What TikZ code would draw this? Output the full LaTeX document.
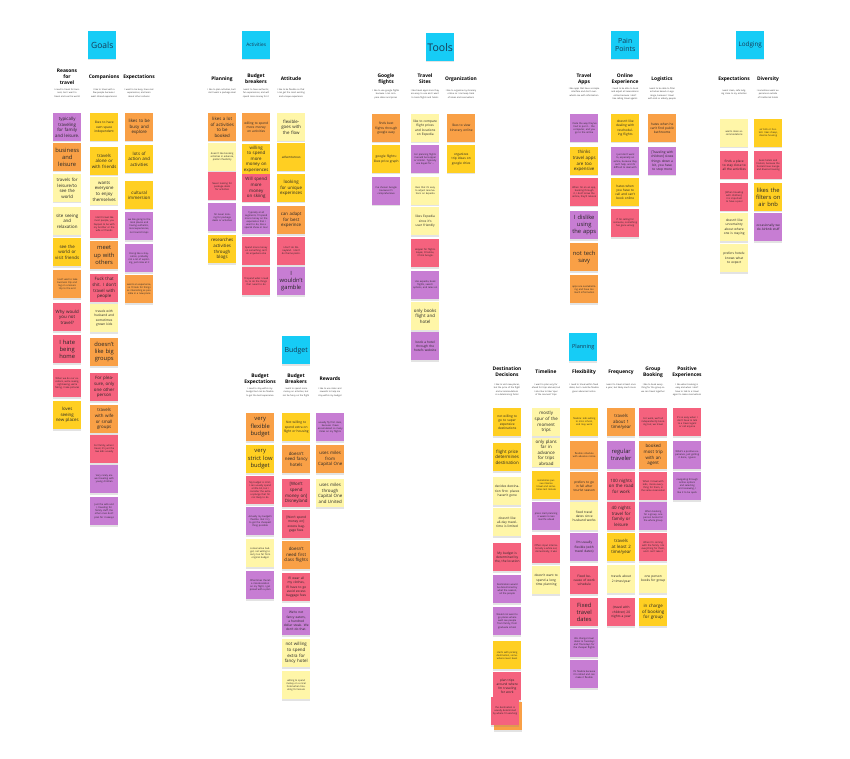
\documentclass[tikz,border=0pt]{standalone}
\usepackage{fontspec}
\setmainfont{Open Sans}
\usetikzlibrary{shadows}
\definecolor{cPur}{RGB}{199,125,211}
\definecolor{cOra}{RGB}{249,160,70}
\definecolor{cYel}{RGB}{255,207,34}
\definecolor{cLye}{RGB}{255,246,168}
\definecolor{cPin}{RGB}{245,98,126}
\definecolor{cCya}{RGB}{22,204,246}
\definecolor{cTit}{RGB}{22,58,85}
\newcommand{\fL}{\fontsize{5.8}{7.2}\selectfont}
\newcommand{\fM}{\fontsize{4.4}{5.6}\selectfont}
\newcommand{\fT}{\fontsize{3.2}{4.2}\selectfont}
\newcommand{\fS}{\fontsize{2.4}{3.1}\selectfont}
\newcommand{\sk}[6]{\node[sticky,fill=#4,font=#5] (#1) at (#2,#3) {#6};}
\newcommand{\hd}[4]{\node[heading] (#1) at (#2,#3) {#4};}
\newcommand{\ds}[4]{\node[descr] (#1) at (#2,#3) {#4};}
\newcommand{\tc}[5]{\node[titlecard,font=#4] (#1) at (#2,#3) {#5};}
\tikzset{
  sticky/.style={anchor=north west, minimum width=28pt, minimum height=28pt, text width=25pt, inner sep=1.5pt, align=center, text=black!85, drop shadow={shadow xshift=0pt, shadow yshift=-1.3pt, opacity=0.22}},
  titlecard/.style={anchor=north west, fill=cCya, minimum width=28pt, minimum height=28pt, text width=27pt, inner sep=0.5pt, align=center, text=cTit, drop shadow={shadow xshift=0pt, shadow yshift=-1.3pt, opacity=0.22}},
  heading/.style={anchor=center, font=\bfseries\fontsize{4.9}{6.1}\selectfont, align=center, text width=36pt, inner sep=0pt},
  descr/.style={anchor=north, font=\fontsize{2.2}{3.1}\selectfont, align=center, text width=31pt, inner sep=0pt, text=black!80}
}
\begin{document}
\begin{tikzpicture}[x=1pt,y=-1pt]
\fill[white] (0,0) rectangle (850,759);
\useasboundingbox (0,0) rectangle (850,759);
% ================= GOALS =================
\tc{tGoals}{88}{31}{\fontsize{8.5}{9}\selectfont}{Goals}
\hd{hReas}{67}{77}{Reasons\\for\\travel}
\hd{hComp}{104}{77}{Companions}
\hd{hExpG}{139}{77}{Expectations}
\ds{dReas}{67}{89}{I need to travel for business, but I want to travel and see the world}
\ds{dComp}{104}{89}{I like to travel with a few people because I want shared experiences}
\ds{dExpG}{139}{89}{I want to be busy, have real experiences, and learn about other cultures}
\sk{r1}{53}{113}{cPur}{\fM}{typically traveling for family and leisure.}
\sk{r2}{53}{143}{cOra}{\fL}{business and leisure}
\sk{r3}{53}{174}{cLye}{\fM}{travels for leisure/to see the world}
\sk{r4}{53}{207}{cLye}{\fM}{site seeing and relaxation}
\sk{r5}{53}{238}{cYel}{\fM}{see the world or visit friends}
\sk{r6}{53}{270}{cOra}{\fS}{I can't wait to take business trip and tag on a leisure trip to the end}
\sk{r7}{53}{303}{cPin}{\fM}{Why would you not travel?}
\sk{r8}{53}{335}{cPin}{\fL}{I hate being home}
\sk{r9}{53}{369}{cPin}{\fS}{When we do our vacations, we're seeing, sightseeing, we're hiking, I take pictures}
\sk{r10}{53}{401}{cYel}{\fM}{loves seeing new places}
\sk{c1}{90}{113}{cYel}{\fT}{likes to have own space independent}
\sk{c2}{90}{147}{cYel}{\fM}{travels alone or with friends}
\sk{c3}{90}{177}{cLye}{\fM}{wants everyone to enjoy themselves}
\sk{c4}{90}{210}{cPin}{\fS}{I don't travel like most people, you happen to be with my brother or the wife or friends}
\sk{c5}{90}{241}{cOra}{\fL}{meet up with others}
\sk{c6}{90}{274}{cPin}{\fM}{Fuck that shit. I don't travel with people}
\sk{c7}{90}{304}{cLye}{\fT}{travels with husband and sometimes grown kids}
\sk{c8}{90}{338}{cOra}{\fL}{doesn't like big groups}
\sk{c9}{90}{373}{cPin}{\fM}{For pleasure, only one other person}
\sk{c10}{90}{405}{cOra}{\fM}{travels with wife or small groups}
\sk{c11}{90}{435}{cPin}{\fS}{For family, when I travel, it's just the two kids usually}
\sk{c12}{90}{465}{cPur}{\fS}{Very rarely are we traveling with young children}
\sk{c13}{90}{497}{cPur}{\fS}{Just the wife and I, traveling for family stuff, the other ones don't plan for it always}
\sk{e1}{125}{113}{cOra}{\fM}{likes to be busy and explore}
\sk{e2}{125}{145}{cYel}{\fM}{lots of action and activities}
\sk{e3}{125}{181}{cYel}{\fM}{cultural immersion}
\sk{e4}{125}{212}{cPur}{\fS}{we like going to the local places and having authentic, local experiences, not tourist traps}
\sk{e5}{125}{244}{cPur}{\fS}{Doing like a staycation, probably not a lot of exploring, just relax at it}
\sk{e6}{125}{275}{cOra}{\fS}{wants an experience, so I'll look for things as interesting as possible in a new place}
% ================= ACTIVITIES =================
\tc{tAct}{242}{31}{\fontsize{4.8}{5}\selectfont}{Activities}
\hd{hPlan}{222}{79}{Planning}
\hd{hBbA}{256}{79}{Budget\\breakers}
\hd{hAtt}{291}{79}{Attitude}
\ds{dPlan}{222}{89}{I like to plan activities, but I don't want a package deal}
\ds{dBbA}{256}{89}{I want to have authentic, fun experiences, and will spend more money for it}
\ds{dAtt}{291}{89}{I like to be flexible so that I can get the most exciting and unique experience}
\sk{p1}{208}{113}{cOra}{\fM}{likes a lot of activities to be booked}
\sk{p2}{208}{143}{cLye}{\fS}{doesn't like booking activities in advance, prefers flexibility}
\sk{p3}{208}{172}{cPin}{\fS}{Never looking for package deals for activities}
\sk{p4}{208}{203}{cPur}{\fS}{I'm never looking for package deals or activities}
\sk{p5}{208}{235}{cYel}{\fM}{researches activities through blogs}
\sk{b1}{242}{113}{cOra}{\fT}{willing to spend more money on activities}
\sk{b2}{242}{144}{cYel}{\fM}{willing to spend more money on experiences}
\sk{b3}{242}{174}{cPin}{\fM}{Will spend more money on skiing}
\sk{b4}{242}{206}{cPur}{\fS}{Typically at all segments, I'll spend more money on the experience that I want to do, like a special show or tour}
\sk{b5}{242}{237}{cPin}{\fS}{Spend more money on something can't do anywhere else}
\sk{b6}{242}{267}{cPin}{\fS}{I'll spend what I need to, to do the things that I want to do}
\sk{a1}{277}{113}{cLye}{\fM}{flexible- goes with the flow}
\sk{a2}{277}{143}{cYel}{\fT}{adventurous}
\sk{a3}{277}{174}{cYel}{\fM}{looking for unique experinces}
\sk{a4}{277}{206}{cOra}{\fM}{can adapt for best experince}
\sk{a5}{277}{237}{cPin}{\fS}{I don't do Disneyland. I don't do theme parks.}
\sk{a6}{277}{267}{cPur}{\fL}{I wouldn't gamble}
% ================= BUDGET =================
\tc{tBud}{282}{336}{\fontsize{7}{7.5}\selectfont}{Budget}
\hd{hBE}{260}{379}{Budget\\Expectations}
\hd{hBB}{296}{379}{Budget\\Breakers}
\hd{hRew}{330}{379}{Rewards}
\ds{dBE}{260}{388}{I need to stay within my budget but can be flexible to get the best experience}
\ds{dBB}{296}{388}{I want to spend more money on activities, but not be fussy on the flight}
\ds{dRew}{330}{388}{I like to use miles and rewards to help me stay within my budget}
\sk{be1}{246}{413}{cOra}{\fL}{very flexible budget}
\sk{be2}{246}{445}{cYel}{\fL}{very strict low budget}
\sk{be3}{246}{476}{cPin}{\fS}{My budget is strict, I can usually spend a little bit, but I consider the extra a splurge that I'm not likely to do}
\sk{be4}{246}{507}{cPur}{\fS}{Actually my budget's flexible. But I try to get the cheapest thing possible}
\sk{be5}{246}{539}{cLye}{\fS}{conservative budget, not willing to carry too far from original budget}
\sk{be6}{246}{571}{cPur}{\fS}{Oftentimes there's a miscalculation on my flight, I get pissed with a plan}
\sk{bb1}{282}{413}{cYel}{\fT}{Not willing to spend extra on flight or housing}
\sk{bb2}{282}{445}{cOra}{\fM}{doesn't need fancy hotels}
\sk{bb3}{282}{479}{cPin}{\fM}{[Won't spend money on] Disneyland}
\sk{bb4}{282}{510}{cPin}{\fT}{[Won't spend money on] excess baggage fees}
\sk{bb5}{282}{541}{cOra}{\fM}{doesn't need first class flights}
\sk{bb6}{282}{573}{cPin}{\fT}{I'll wear all my clothes, I'll have to go avoid excess baggage fees}
\sk{bb7}{282}{607}{cPur}{\fT}{We're not fancy eaters, a hundred dollar steak. We don't do that.}
\sk{bb8}{282}{639}{cLye}{\fM}{not willing to spend extra for fancy hotel}
\sk{bb9}{282}{671}{cLye}{\fS}{willing to spend money on a nicer hotel when traveling for leisure}
\sk{rw1}{316}{413}{cPur}{\fS}{usually fly first class, because I have accumulated so many miles on my flights}
\sk{rw2}{316}{445}{cOra}{\fM}{uses miles from Capital One}
\sk{rw3}{316}{479}{cLye}{\fM}{uses miles through Capital One and United}
% ================= TOOLS =================
\tc{tTools}{426}{33}{\fontsize{10.5}{11}\selectfont}{Tools}
\hd{hGoo}{386}{79}{Google\\flights}
\hd{hTS}{425}{79}{Travel\\Sites}
\hd{hOrg}{461}{79}{Organization}
\ds{dGoo}{386}{90}{I like to use google flights because I can compare dates and prices}
\ds{dTS}{425}{90}{I like travel apps since they are easy to use and I want to book flights and hotels}
\ds{dOrg}{461}{90}{I like to organize my itinerary online so I can keep track of ideas and reservations}
\sk{go1}{372}{114}{cOra}{\fT}{finds best flights through google easy}
\sk{go2}{372}{145}{cYel}{\fT}{google flights: likes price graph}
\sk{go3}{372}{177}{cPur}{\fS}{I've chosen Google because it's comprehensive}
\sk{ts1}{411}{114}{cLye}{\fT}{like to compare flight prices and locations on Expedia}
\sk{ts2}{411}{145}{cPur}{\fS}{For planning flights it would be Hopper or similar. Typically use Kayak for ...}
\sk{ts3}{411}{177}{cLye}{\fS}{likes that it's easy to adjust reservations on Expedia}
\sk{ts4}{411}{207}{cLye}{\fT}{likes Expedia since it's user friendly}
\sk{ts5}{411}{239}{cPin}{\fS}{Hopper for flights. Kayak, Priceline, I think Google.}
\sk{ts6}{411}{271}{cPur}{\fS}{Use expedia, book flights, search options, and relax on}
\sk{ts7}{411}{302}{cLye}{\fM}{only books flight and hotel}
\sk{ts8}{411}{332}{cPur}{\fT}{book a hotel through the hotel's website}
\sk{or1}{447}{114}{cOra}{\fT}{likes to view itinerary online}
\sk{or2}{447}{145}{cYel}{\fT}{organizes trip ideas on google drive}
% ================= PAIN POINTS =================
\tc{tPain}{611}{31}{\fontsize{7}{8}\selectfont}{Pain\\Points}
\hd{hTA}{584}{79}{Travel\\Apps}
\hd{hOE}{625}{79}{Online\\Experience}
\hd{hLog}{662}{79}{Logistics}
\ds{dTA}{584}{88}{I like apps that have a simple interface and don't overwhelm me with information}
\ds{dOE}{625}{88}{I need to be able to book and adjust all reservations online because I don't like calling travel agents}
\ds{dLog}{662}{88}{I want to be able to filter activities based on age range, because I travel with kids or elderly people}
\sk{ta1}{570}{114}{cPur}{\fS}{I hate the way they've had to put it... the computer, and you go to the airline}
\sk{ta2}{570}{147}{cYel}{\fM}{thinks travel apps are too expensive}
\sk{ta3}{570}{178}{cPin}{\fS}{When I'm on an app, booking through it, I don't know the airline, they'll rebook}
\sk{ta4}{570}{211}{cPur}{\fL}{I dislike using the apps}
\sk{ta5}{570}{243}{cOra}{\fL}{not tech savy}
\sk{ta6}{570}{275}{cOra}{\fS}{apps are overwhelming and have too much information}
\sk{oe1}{611}{114}{cYel}{\fT}{doesn't like dealing with rescheduling flights}
\sk{oe2}{611}{147}{cPur}{\fS}{I just don't want to, especially an airline, because they can't help, and it's difficult to deal with}
\sk{oe3}{611}{178}{cYel}{\fT}{hates when you have to call and can't book online}
\sk{oe4}{611}{209}{cPin}{\fS}{If I'm calling for someone, something has gone wrong}
\sk{lg1}{648}{114}{cOra}{\fT}{hates when he can't find public bathrooms}
\sk{lg2}{648}{147}{cPur}{\fT}{[Traveling with children] slows things down a bit, you have to stop more}
% ================= LODGING =================
\tc{tLod}{736}{31}{\fontsize{6.3}{7}\selectfont}{Lodging}
\hd{hLEx}{734}{79}{Expectations}
\hd{hDiv}{768}{79}{Diversity}
\ds{dLEx}{734}{90}{I want clean, safe lodging close to my activities}
\ds{dDiv}{768}{90}{I sometimes want experiences outside of traditional hotels}
\sk{le1}{720}{119}{cLye}{\fS}{wants clean accommodations}
\sk{le2}{720}{151}{cPin}{\fT}{finds a place to stay close to all the activities}
\sk{le3}{720}{183}{cPin}{\fS}{[When traveling with children], it is important to have a pool}
\sk{le4}{720}{213}{cLye}{\fT}{doesn't like uncertainty about where one is staying}
\sk{le5}{720}{244}{cLye}{\fT}{prefers hotels: knows what to expect}
\sk{dv1}{754}{119}{cYel}{\fS}{air bnb or hostels: likes cheap, diverse housing}
\sk{dv2}{754}{151}{cPin}{\fS}{book hotels and hostels, because the hostels have lounge and diverse housing}
\sk{dv3}{754}{183}{cYel}{\fL}{likes the filters on air bnb}
\sk{dv4}{754}{213}{cPur}{\fT}{occasionally we do Airbnb stuff}
% ================= PLANNING =================
\tc{tPlan}{569}{333}{\fontsize{5.5}{6}\selectfont}{Planning}
\hd{hDD}{507}{372}{Destination\\Decisions}
\hd{hTL}{546}{372}{Timeline}
\hd{hFl}{584}{372}{Flexibility}
\hd{hFr}{621}{372}{Frequency}
\hd{hGB}{653}{372}{Group\\Booking}
\hd{hPE}{687}{372}{Positive\\Experiences}
\ds{dDD}{507}{384}{I like to visit new places, but the price of the flight and accommodations is a determining factor}
\ds{dTL}{546}{384}{I want to plan very far ahead for trips abroad, but I also like to take 'spur of the moment' trips}
\ds{dFl}{584}{384}{I need to travel within fixed dates, but I could be flexible given advanced notice}
\ds{dFr}{621}{384}{I want to travel at least once a year, but likely much more}
\ds{dGB}{653}{384}{I like to book everything for the group so we can travel together}
\ds{dPE}{687}{384}{I like when booking is easy and when I don't have to talk to a travel agent to make reservations}
\sk{dd1}{493}{408}{cYel}{\fT}{not willing to go to super expensive destinations}
\sk{dd2}{493}{443}{cYel}{\fM}{flight price determines destination}
\sk{dd3}{493}{477}{cLye}{\fT}{decides destination first: places haven't gone}
\sk{dd4}{493}{508}{cLye}{\fT}{doesn't like all-day travel- time is limited}
\sk{dd5}{493}{543}{cPin}{\fT}{My budget is determined by the, the location}
\sk{dd6}{493}{575}{cPur}{\fS}{Destination would be determined by what the season, all the people}
\sk{dd7}{493}{607}{cPur}{\fS}{Would not want to go places where we'd see people from family, from graduate school}
\sk{dd8}{493}{641}{cYel}{\fS}{starts with picking destination, somewhere never been}
\sk{dd9}{493}{672}{cPin}{\fT}{plan trips around where I'm traveling for work}
\sk{dd10}{494}{702}{cOra}{\fS}{}
\sk{dd11}{491}{697}{cPin}{\fS}{the destination is usually determined by where I'm working}
\sk{tl1}{532}{408}{cLye}{\fM}{mostly spur of the moment trips}
\sk{tl2}{532}{438}{cLye}{\fM}{only plans far in advance for trips abroad}
\sk{tl3}{532}{471}{cYel}{\fS}{sometimes pursue intense travel and sometimes last minute}
\sk{tl4}{532}{502}{cPur}{\fS}{plans start planning 6 weeks to two months ahead}
\sk{tl5}{532}{535}{cPin}{\fS}{Offers input internationally a while out, domestically, 3 wks}
\sk{tl6}{532}{566}{cLye}{\fT}{doesn't want to spend a long time planning}
\sk{fl1}{570}{408}{cYel}{\fS}{flexible: kids willing to miss school, and may work}
\sk{fl2}{570}{441}{cOra}{\fS}{flexible schedule with advance notice}
\sk{fl3}{570}{472}{cOra}{\fT}{prefers to go in fall after tourist season}
\sk{fl4}{570}{502}{cLye}{\fT}{fixed travel dates since husband works}
\sk{fl5}{570}{533}{cPur}{\fT}{I'm usually flexible (with travel dates)}
\sk{fl6}{570}{566}{cPin}{\fT}{Fixed because of work schedule}
\sk{fl7}{570}{598}{cPin}{\fL}{Fixed travel dates}
\sk{fl8}{570}{629}{cPur}{\fS}{We change travel dates to Tuesdays and Thursdays for the cheaper flights}
\sk{fl9}{570}{660}{cPur}{\fS}{It's flexible because I'm retired and can make it flexible}
\sk{fr1}{607}{408}{cOra}{\fM}{travels about 1 time/year}
\sk{fr2}{607}{441}{cPur}{\fL}{regular traveler}
\sk{fr3}{607}{472}{cPin}{\fM}{100 nights on the road for work}
\sk{fr4}{607}{502}{cPin}{\fM}{40 nights travel for family or leisure}
\sk{fr5}{607}{533}{cYel}{\fM}{travels at least 2 time/year}
\sk{fr6}{607}{565}{cLye}{\fT}{travels about 2 times/year}
\sk{fr7}{607}{598}{cPin}{\fT}{(travel with children) 20 nights a year}
\sk{gb1}{639}{408}{cPin}{\fS}{For work, we'll all independently booking but, we travel}
\sk{gb2}{639}{441}{cOra}{\fM}{booked most trip with an agent}
\sk{gb3}{639}{472}{cPin}{\fS}{When I travel with kids, I book everything for them, in the same reservation}
\sk{gb4}{639}{502}{cPur}{\fS}{When booking for a group, one person books for the whole group}
\sk{gb5}{639}{533}{cPin}{\fS}{When I'm coming with the family I do everything for them, and I can't take it}
\sk{gb6}{639}{565}{cLye}{\fT}{one person books for group}
\sk{gb7}{639}{598}{cYel}{\fM}{in charge of booking for group}
\sk{pe1}{673}{408}{cPin}{\fS}{It's so easy when I don't have to talk to a travel agent or call anyone}
\sk{pe2}{673}{441}{cPur}{\fS}{What's a positive experience, just getting it done, I guess}
\sk{pe3}{673}{472}{cPur}{\fS}{navigating through online options and selecting and reviewing, I like it to be quick}
\end{tikzpicture}
\end{document}
